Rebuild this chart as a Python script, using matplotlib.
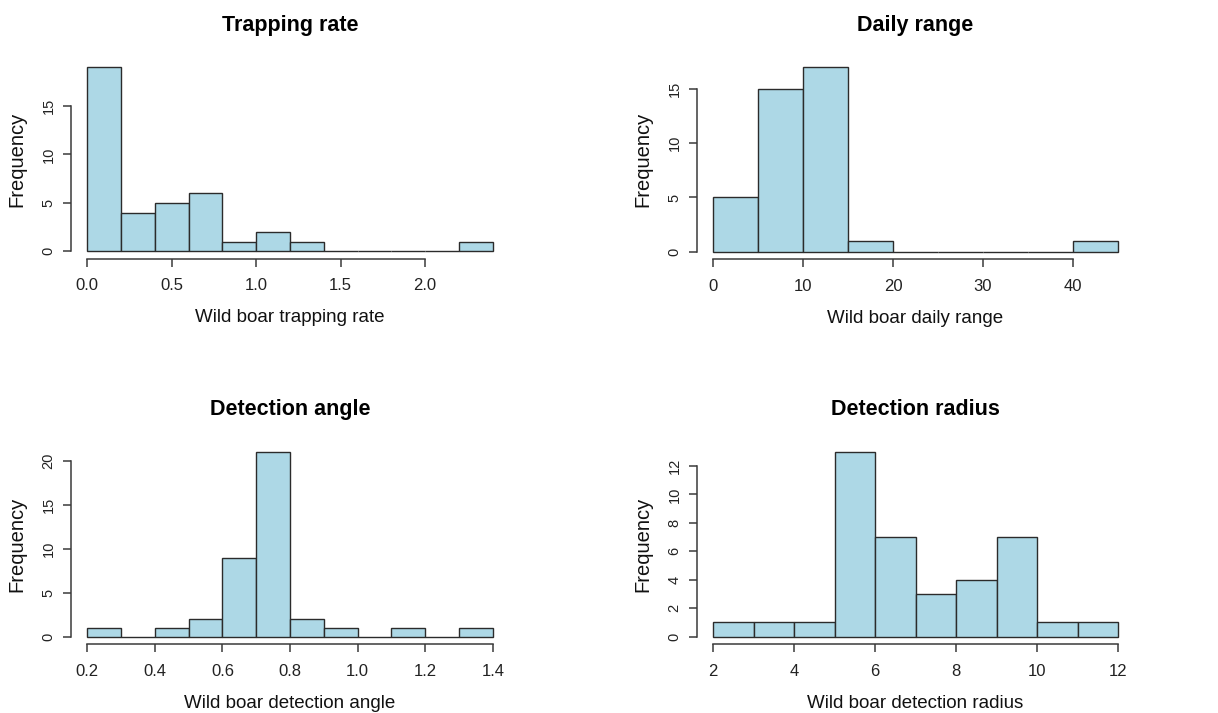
import numpy as np
import matplotlib
matplotlib.use("Agg")
import matplotlib.pyplot as plt

plt.rcParams['font.family'] = ['Liberation Sans', 'DejaVu Sans']

# ---- data (bin edges and counts) ----
titles = ["Trapping rate", "Daily range", "Detection angle", "Detection radius"]
xlabels = ["Wild boar trapping rate", "Wild boar daily range",
           "Wild boar detection angle", "Wild boar detection radius"]

trap_edges = [0.0, 0.2, 0.4, 0.6, 0.8, 1.0, 1.2, 1.4, 1.6, 1.8, 2.0, 2.2, 2.4]
trap_counts = [19, 4, 5, 6, 1, 2, 1, 0, 0, 0, 0, 1]

range_edges = [0, 5, 10, 15, 20, 25, 30, 35, 40, 45]
range_counts = [5, 15, 17, 1, 0, 0, 0, 0, 1]

angle_edges = [0.2, 0.3, 0.4, 0.5, 0.6, 0.7, 0.8, 0.9, 1.0, 1.1, 1.2, 1.3, 1.4]
angle_counts = [1, 0, 1, 2, 9, 21, 2, 1, 0, 1, 0, 1]

radius_edges = [2, 3, 4, 5, 6, 7, 8, 9, 10, 11, 12]
radius_counts = [1, 1, 1, 13, 7, 3, 4, 7, 1, 1]

xticks = [[0.0, 0.5, 1.0, 1.5, 2.0], [0, 10, 20, 30, 40],
          [0.2, 0.4, 0.6, 0.8, 1.0, 1.2, 1.4], [2, 4, 6, 8, 10, 12]]
xticklabels = [["0.0", "0.5", "1.0", "1.5", "2.0"], ["0", "10", "20", "30", "40"],
               ["0.2", "0.4", "0.6", "0.8", "1.0", "1.2", "1.4"],
               ["2", "4", "6", "8", "10", "12"]]
yticks = [[0, 5, 10, 15], [0, 5, 10, 15], [0, 5, 10, 15, 20], [0, 2, 4, 6, 8, 10, 12]]

edges_all = [trap_edges, range_edges, angle_edges, radius_edges]
counts_all = [trap_counts, range_counts, angle_counts, radius_counts]

W, H = 1218, 713
fig = plt.figure(figsize=(W / 100, H / 100), dpi=100)
fig.patch.set_facecolor("white")

# plot regions in pixels: (left, top, right, bottom)
regions = [(71, 59.8, 509, 258.7), (696.8, 59.9, 1134.2, 259.1),
           (71, 444.5, 509, 644.1), (696.8, 444.4, 1134.2, 644.1)]

axis_col = "#3a3a3a"
for i in range(4):
    l, t, r, b = regions[i]
    ax = fig.add_axes([l / W, (H - b) / H, (r - l) / W, (b - t) / H])
    edges = np.array(edges_all[i], dtype=float)
    counts = np.array(counts_all[i], dtype=float)
    ax.bar(edges[:-1], counts, width=np.diff(edges), align="edge",
           color="#ADD8E6", edgecolor="#2b2b2b", linewidth=1.0)
    x0, x1 = edges[0], edges[-1]
    dx = 0.04 * (x1 - x0)
    ymax = counts.max()
    dy = 0.04 * ymax
    ax.set_xlim(x0 - dx, x1 + dx)
    ax.set_ylim(-dy, ymax + dy)

    for s in ["top", "right"]:
        ax.spines[s].set_visible(False)
    for s in ["left", "bottom"]:
        ax.spines[s].set_color(axis_col)
        ax.spines[s].set_linewidth(1.1)
    ax.spines["bottom"].set_bounds(xticks[i][0], xticks[i][-1])
    ax.spines["left"].set_bounds(yticks[i][0], yticks[i][-1])

    ax.set_xticks(xticks[i])
    ax.set_xticklabels(xticklabels[i])
    ax.set_yticks(yticks[i])
    ax.set_yticklabels([str(v) for v in yticks[i]], rotation=90, va="center")
    ax.tick_params(axis="x", length=6, width=1.1, color=axis_col, pad=8,
                   labelsize=12, labelcolor="#222222")
    ax.tick_params(axis="y", length=6, width=1.1, color=axis_col, pad=5,
                   labelsize=10.5, labelcolor="#222222")

    ax.set_xlabel(xlabels[i], fontsize=13.5, color="#111111")
    ax.xaxis.set_label_coords(0.5, -0.297)
    ax.xaxis.label.set_va("center")
    ax.set_ylabel("Frequency", fontsize=14.5, color="#111111")
    ax.yaxis.set_label_coords(-0.123, 0.5)
    ax.yaxis.label.set_va("center")

    ax.text(0.5, 1 + 34.7 / (b - t), titles[i], transform=ax.transAxes,
            ha="center", va="center", fontsize=15.5, fontweight="bold",
            color="#000000")
    ax.set_facecolor("white")

fig.savefig("out.png", dpi=100, facecolor="white")
